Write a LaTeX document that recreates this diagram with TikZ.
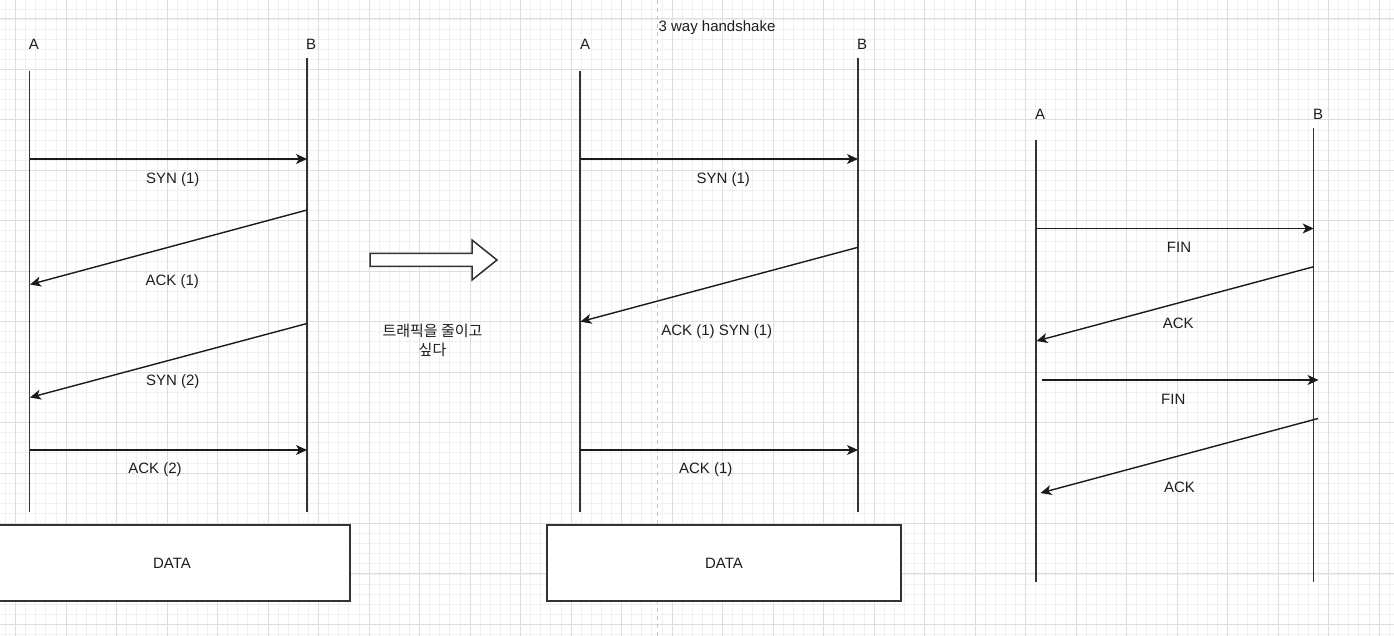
\documentclass[tikz,border=0pt]{standalone}
\usepackage{fontspec}
\setmainfont{Liberation Sans}
\newfontfamily\krfont{Noto Sans CJK KR}
\usetikzlibrary{arrows.meta,positioning}

\begin{document}
\begin{tikzpicture}[
  x=1pt,
  y=-1pt,
  >={Stealth[length=11pt,width=10pt,inset=3pt]},
  font=\fontsize{15}{18}\selectfont,
  party/.style={anchor=base,inner sep=0pt,text=hstext},
  msglabel/.style={anchor=base,inner sep=0pt,text=hstext},
  lifeline/.style={draw=hsline,line width=1.5pt},
  msg/.style={->,draw=hsarrow,line width=1.4pt},
  databox/.style={draw=hsline,fill=white,line width=1.5pt,minimum width=354pt,
    minimum height=76pt,inner sep=0pt,text=hstext},
  gridminor/.style={draw=hsgridlight,line width=0.8pt},
  gridmajor/.style={draw=hsgrid,line width=1pt}
]
  \definecolor{hstext}{HTML}{1E1E1E}
  \definecolor{hsline}{HTML}{333333}
  \definecolor{hsarrow}{HTML}{1A1A1A}
  \definecolor{hsgrid}{HTML}{DEDEDE}
  \definecolor{hsgridlight}{HTML}{F0F0F0}
  \definecolor{hsdash}{HTML}{C4C4C4}

  \fill[white] (0,0) rectangle (1394,636);
  \useasboundingbox (0,0) rectangle (1394,636);

  % grid
  \foreach \gx in {-1,...,137}
    \draw[gridminor] (15.5+\gx*10.1,0) -- (15.5+\gx*10.1,636);
  \foreach \gy in {-1,...,61}
    \draw[gridminor] (0,19+\gy*10.09) -- (1394,19+\gy*10.09);
  \foreach \gx in {0,...,27}
    \draw[gridmajor] (15.5+\gx*50.5,0) -- (15.5+\gx*50.5,636);
  \foreach \gy in {0,...,12}
    \draw[gridmajor] (0,19+\gy*50.45) -- (1394,19+\gy*50.45);

  \draw[hsdash,line width=1pt,dash pattern=on 4pt off 4pt] (657,0) -- (657,636);

  % full handshake
  \node[party] (a1) at (34,50) {A};
  \node[party] (b1) at (311,50) {B};
  \coordinate (a1top) at (29.5,71);
  \coordinate (a1bot) at (29.5,512);
  \coordinate (b1top) at (307,58);
  \coordinate (b1bot) at (307,512);
  \draw[lifeline] (a1top) -- (a1bot);
  \draw[lifeline] (b1top) -- (b1bot);

  \coordinate (syn1a) at (29.5,159);
  \coordinate (syn1b) at (307,159);
  \coordinate (ack1b) at (307,210);
  \coordinate (ack1a) at (30,284.5);
  \coordinate (syn2b) at (307,323.5);
  \coordinate (syn2a) at (30,397.5);
  \coordinate (ack2a) at (29.5,450);
  \coordinate (ack2b) at (307,450);
  \draw[msg] (syn1a) -- (syn1b);
  \draw[msg] (ack1b) -- (ack1a);
  \draw[msg] (syn2b) -- (syn2a);
  \draw[msg] (ack2a) -- (ack2b);
  \node[msglabel] (syn1) at (172.7,183.5) {SYN (1)};
  \node[msglabel] (ack1) at (172.2,285) {ACK (1)};
  \node[msglabel] (syn2) at (172.7,385.7) {SYN (2)};
  \node[msglabel] (ack2) at (155,473.3) {ACK (2)};
  \node[databox,minimum width=356pt] (data1) at (172,563) {DATA};

  % arrow in the middle
  \draw[hsline,fill=white,line width=1.5pt]
    (370,253.5) -- (472,253.5) -- (472,240) -- (497,260) -- (472,280)
    -- (472,266.5) -- (370,266.5) -- cycle;
  \node[text=hstext,align=center,font=\krfont\fontsize{15}{19.5}\selectfont]
    (wish) at (432.5,340.5) {트래픽을 줄이고\\싶다};

  % merged handshake
  \node[msglabel] (title2) at (717,32) {3 way handshake};
  \node[party] (a2) at (585,50) {A};
  \node[party] (b2) at (862,50) {B};
  \coordinate (a2top) at (580,71);
  \coordinate (a2bot) at (580,512);
  \coordinate (b2top) at (858,58);
  \coordinate (b2bot) at (858,512);
  \draw[lifeline] (a2top) -- (a2bot);
  \draw[lifeline] (b2top) -- (b2bot);

  \coordinate (m1a) at (580,159);
  \coordinate (m1b) at (858,159);
  \coordinate (m2b) at (858,247.3);
  \coordinate (m2a) at (580.5,321.7);
  \coordinate (m3a) at (580,450);
  \coordinate (m3b) at (858,450);
  \draw[msg] (m1a) -- (m1b);
  \draw[msg] (m2b) -- (m2a);
  \draw[msg] (m3a) -- (m3b);
  \node[msglabel] (m1) at (723.3,183.5) {SYN (1)};
  \node[msglabel] (m2) at (716.7,335) {ACK (1) SYN (1)};
  \node[msglabel] (m3) at (705.8,473.3) {ACK (1)};
  \node[databox] (data2) at (724,563) {DATA};

  % close
  \node[party] (a3) at (1040,120) {A};
  \node[party] (b3) at (1318,120) {B};
  \coordinate (a3top) at (1036,140);
  \coordinate (a3bot) at (1036,582);
  \coordinate (b3top) at (1313.7,128);
  \coordinate (b3bot) at (1313.7,582);
  \draw[lifeline] (a3top) -- (a3bot);
  \draw[lifeline] (b3top) -- (b3bot);

  \coordinate (fin1a) at (1036,228.5);
  \coordinate (fin1b) at (1313.7,228.5);
  \coordinate (cack1b) at (1313.7,266.7);
  \coordinate (cack1a) at (1036.5,341);
  \coordinate (fin2a) at (1041.5,380);
  \coordinate (fin2b) at (1318.5,380);
  \coordinate (cack2b) at (1318,418.5);
  \coordinate (cack2a) at (1040.5,493);
  \draw[msg] (fin1a) -- (fin1b);
  \draw[msg] (cack1b) -- (cack1a);
  \draw[msg] (fin2a) -- (fin2b);
  \draw[msg] (cack2b) -- (cack2a);
  \node[msglabel] (fin1) at (1179,252.3) {FIN};
  \node[msglabel] (cack1) at (1178.3,328.3) {ACK};
  \node[msglabel] (fin2) at (1173.3,404) {FIN};
  \node[msglabel] (cack2) at (1179.5,492.3) {ACK};
\end{tikzpicture}
\end{document}
